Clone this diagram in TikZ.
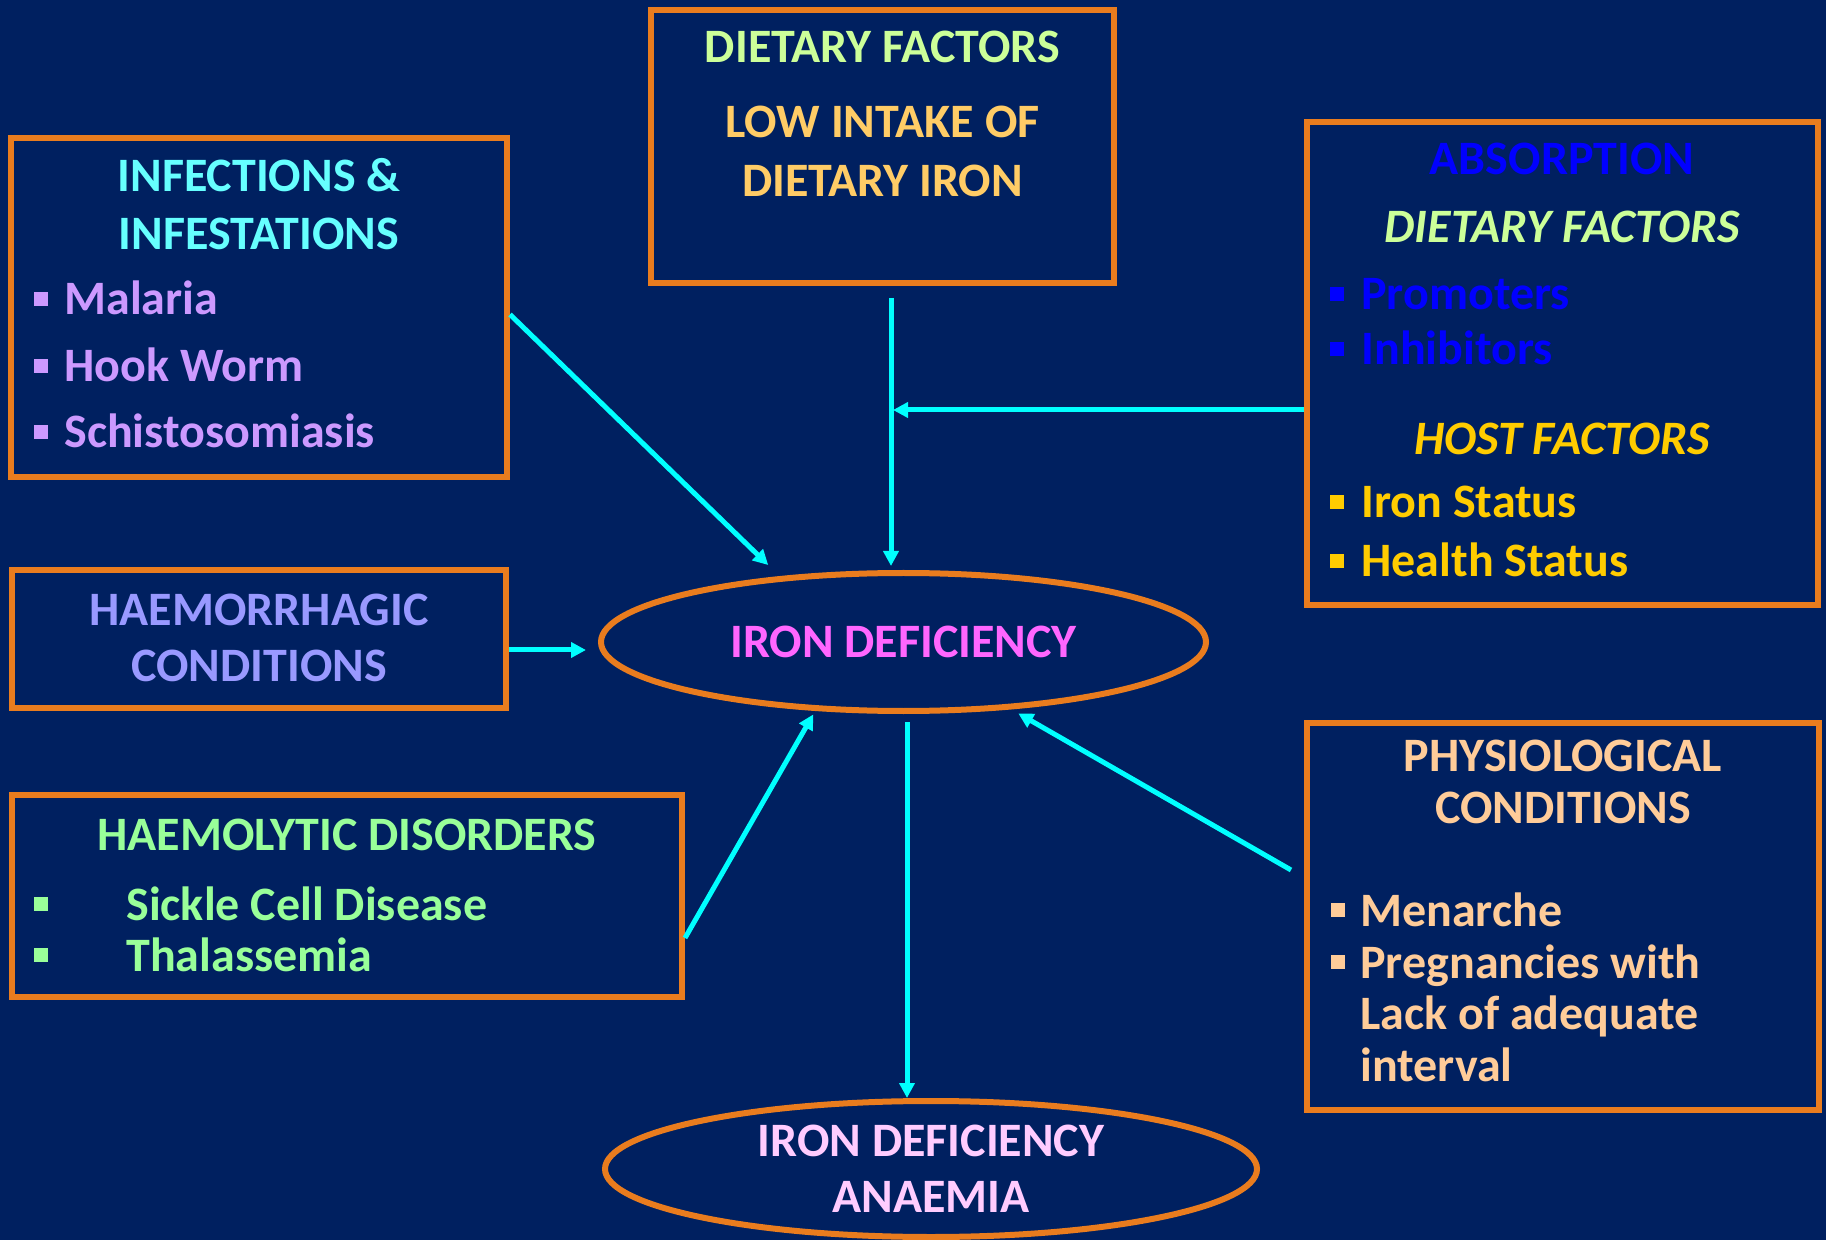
\documentclass[tikz,border=0pt]{standalone}
\usepackage{fontspec}
\setmainfont{Carlito}
\usepackage{tikz}
\usetikzlibrary{arrows.meta, shapes.geometric, calc}
\usepackage{xcolor}
\definecolor{navy}{HTML}{002060}
\definecolor{rim}{HTML}{E97C1E}
\definecolor{flow}{HTML}{00FFFF}
\definecolor{cInf}{HTML}{66FFFF}
\definecolor{cPar}{HTML}{CC99FF}
\definecolor{cDiet}{HTML}{CCFF99}
\definecolor{cLow}{HTML}{FFCC66}
\definecolor{cAbs}{HTML}{0000FF}
\definecolor{cHost}{HTML}{FFCC00}
\definecolor{cHmr}{HTML}{9999FF}
\definecolor{cHml}{HTML}{99FF99}
\definecolor{cPhy}{HTML}{FFCC99}
\definecolor{cIrn}{HTML}{FF66FF}
\definecolor{cIda}{HTML}{FFCCFF}
\newcommand{\sqbul}[1]{\makebox[#1][l]{\rule[4.5pt]{7pt}{7pt}}}

\begin{document}
\begin{tikzpicture}[x=0.5pt, y=-0.5pt, font=\fontsize{24}{29}\selectfont\bfseries,
  box/.style={draw=rim, line width=3pt, rectangle, inner sep=0pt},
  oval/.style={draw=rim, line width=3pt, ellipse, inner sep=0pt, align=center},
  head/.style={anchor=base},
  item/.style={anchor=base west, inner sep=0pt},
  arr/.style={-{Triangle[length=7.5pt, width=7.5pt]}, draw=flow, line width=2.5pt}]
  \useasboundingbox (0,0) rectangle (1826,1240);
  \fill[navy] (0,0) rectangle (1826,1240);
  % boxes round the causes
  \node[box, minimum width=248pt, minimum height=169.5pt] (infect) at (259,307.5) {};
  \node[box, minimum width=231.5pt, minimum height=136.5pt] (diet) at (882.5,146.5) {};
  \node[box, minimum width=255.5pt, minimum height=241.5pt] (absorb) at (1562.5,363.5) {};
  \node[box, minimum width=247pt, minimum height=69pt] (haemor) at (259,639) {};
  \node[box, minimum width=335pt, minimum height=101pt] (haemol) at (347,896) {};
  \node[box, minimum width=256pt, minimum height=193.5pt] (physio) at (1563,916.5) {};
  % the two ovals
  \node[oval, minimum width=302.5pt, minimum height=69pt, text=cIrn] (idef) at (903.5,642) {IRON DEFICIENCY};
  \node[oval, minimum width=326pt, minimum height=68pt, text=cIda,
    font=\fontsize{24}{28}\selectfont\bfseries] (ida) at (931,1169) {IRON DEFICIENCY\\ANAEMIA};
  % infections
  \node[head, text=cInf] (infA) at (259,192) {INFECTIONS \&};
  \node[head, text=cInf] (infB) at (259,250) {INFESTATIONS};
  \node[item, text=cPar] (mal) at (34,315) {\sqbul{15pt}Malaria};
  \node[item, text=cPar] (hook) at (34,382) {\sqbul{15pt}Hook Worm};
  \node[item, text=cPar] (schis) at (34,448) {\sqbul{15pt}Schistosomiasis};
  % diet
  \node[head, text=cDiet] (dietA) at (882.5,63) {DIETARY FACTORS};
  \node[head, text=cLow] (lowA) at (882.5,138) {LOW INTAKE OF};
  \node[head, text=cLow] (lowB) at (882.5,197) {DIETARY IRON};
  % absorption
  \node[head, text=cAbs] (absA) at (1562,175) {ABSORPTION};
  \node[head, text=cDiet, font=\fontsize{24}{29}\selectfont\bfseries\itshape] (absB) at (1562,243) {DIETARY FACTORS};
  \node[item, text=cAbs] (prom) at (1330,310) {\sqbul{15.5pt}Promoters};
  \node[item, text=cAbs] (inhib) at (1330,365) {\sqbul{15.5pt}Inhibitors};
  \node[head, text=cHost, font=\fontsize{24}{29}\selectfont\bfseries\itshape] (hostA) at (1562,455) {HOST FACTORS};
  \node[item, text=cHost] (ironst) at (1330,518) {\sqbul{15.5pt}Iron Status};
  \node[item, text=cHost] (health) at (1330,577) {\sqbul{15.5pt}Health Status};
  % haemorrhagic and haemolytic
  \node[head, text=cHmr] (hmrA) at (259,625) {HAEMORRHAGIC};
  \node[head, text=cHmr] (hmrB) at (259,682) {CONDITIONS};
  \node[head, text=cHml] (hmlA) at (347,850) {HAEMOLYTIC DISORDERS};
  \node[item, text=cHml] (sickle) at (34,920) {\sqbul{46pt}Sickle Cell Disease};
  \node[item, text=cHml] (thal) at (34,971) {\sqbul{46pt}Thalassemia};
  % physiological
  \node[head, text=cPhy] (phyA) at (1563,771) {PHYSIOLOGICAL};
  \node[head, text=cPhy] (phyB) at (1563,823) {CONDITIONS};
  \node[item, text=cPhy] (men) at (1331,926) {\sqbul{14.5pt}Menarche};
  \node[item, text=cPhy] (preg) at (1331,978) {\sqbul{14.5pt}Pregnancies with};
  \node[item, text=cPhy] (lack) at (1360,1029) {Lack of adequate};
  \node[item, text=cPhy] (intv) at (1360,1081) {interval};
  % connectors
  \coordinate (jn) at (891,410);
  \coordinate (hmrOut) at ([yshift=-5.5pt]haemor.east);
  \coordinate (dn) at ([xshift=1.75pt]idef.south);
  \draw[arr, shorten >=8pt] ([yshift=-3.5pt]infect.east) -- (idef.152);
  \draw[arr, shorten <=6pt, shorten >=2pt] (diet.south -| jn) -- (idef.north -| jn);
  \draw[arr, shorten >=1pt] (absorb.west |- jn) -- (jn);
  \draw[arr, shorten >=6pt] (hmrOut) -- (hmrOut -| idef.west);
  \draw[arr, shorten >=2pt] ([yshift=-21pt]haemol.east) -- (idef.218);
  \draw[arr, shorten >=4pt] ([xshift=-6.5pt, yshift=23.25pt]physio.west) -- (idef.328);
  \draw[arr, shorten <=4pt] (dn) -- (dn |- ida.north);
\end{tikzpicture}
\end{document}
